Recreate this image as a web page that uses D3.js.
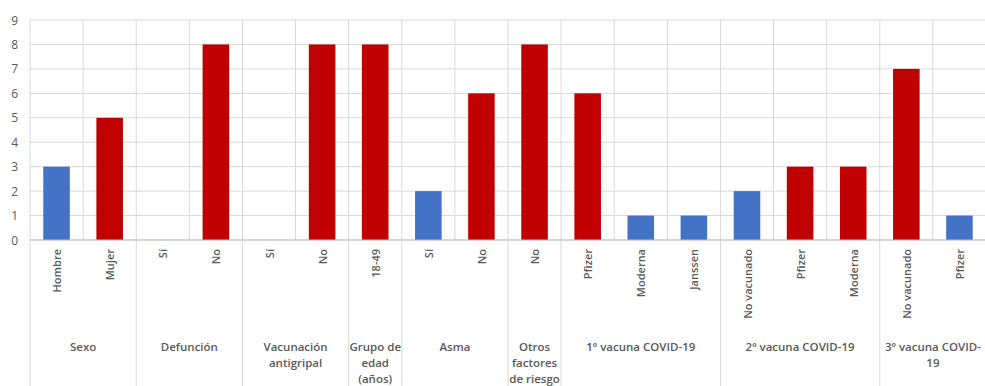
<!DOCTYPE html>
<html>
<head>
<meta charset="utf-8">
<script src="https://cdn.jsdelivr.net/npm/d3@7"></script>
<style>
  html, body { margin: 0; padding: 0; background: #fff; }
  svg { display: block; }
  text { font-family: "Open Sans", "Liberation Sans", sans-serif; fill: #595959; }
</style>
</head>
<body>
<svg id="chart" width="985" height="386"></svg>
<script>
// Category labels (inner level of the axis)
const categories = [
  "Hombre", "Mujer",
  "Sí", "No",
  "Sí", "No",
  "18-49",
  "Sí", "No",
  "No",
  "Pfizer", "Moderna", "Janssen",
  "No vacunado", "Pfizer", "Moderna",
  "No vacunado", "Pfizer"
];
// Number of cases per category
const values = [3, 5, 0, 8, 0, 8, 8, 2, 6, 8, 6, 1, 1, 2, 3, 3, 7, 1];
// Bar colour class per category
const colorKeys = ["b", "r", "r", "r", "r", "r", "r", "b", "r", "r", "r", "b", "b", "b", "r", "r", "r", "b"];
// Outer level of the axis: group label lines and how many categories each spans
const groupLabels = [
  ["Sexo"],
  ["Defunción"],
  ["Vacunación", "antigripal"],
  ["Grupo de", "edad", "(años)"],
  ["Asma"],
  ["Otros", "factores", "de riesgo"],
  ["1º vacuna COVID-19"],
  ["2º vacuna COVID-19"],
  ["3º vacuna COVID-", "19"]
];
const groupSizes = [2, 2, 2, 1, 2, 1, 3, 3, 2];
const yTicks = [0, 1, 2, 3, 4, 5, 6, 7, 8, 9];

const palette = { b: "#4472C4", r: "#C00000" };
const gridColor = "#d9d9d9";

const svg = d3.select("#chart");
const plotLeft = 30, plotRight = 986, plotTop = 20, plotBottom = 240;

const x = d3.scaleBand()
  .domain(d3.range(categories.length))
  .range([plotLeft, plotRight])
  .paddingInner(0.5)
  .paddingOuter(0.25);
const step = x.step();
// Left edge of the i-th category cell (i = n gives the right edge of the last one)
const cellLeft = i => x.range()[0] + i * step;

const y = d3.scaleLinear().domain([0, 9]).range([plotBottom, plotTop]);

// Horizontal gridlines
svg.append("g").selectAll("line").data(yTicks).join("line")
  .attr("x1", plotLeft).attr("x2", plotRight)
  .attr("y1", d => y(d)).attr("y2", d => y(d))
  .attr("stroke", gridColor).attr("stroke-width", 1);

// Vertical gridlines between categories inside the plot
svg.append("g").selectAll("line").data(d3.range(categories.length + 1)).join("line")
  .attr("x1", i => cellLeft(i)).attr("x2", i => cellLeft(i))
  .attr("y1", plotTop).attr("y2", plotBottom)
  .attr("stroke", gridColor).attr("stroke-width", 1);

// Y axis tick labels
svg.append("g").selectAll("text").data(yTicks).join("text")
  .attr("x", 18).attr("y", d => y(d))
  .attr("text-anchor", "end").attr("dominant-baseline", "central")
  .attr("font-size", 12)
  .text(d => d);

// Bars
svg.append("g").selectAll("rect").data(values).join("rect")
  .attr("x", (d, i) => x(i))
  .attr("width", x.bandwidth())
  .attr("y", d => y(d))
  .attr("height", d => y(0) - y(d))
  .attr("fill", (d, i) => palette[colorKeys[i]]);

// Axis baseline
svg.append("line")
  .attr("x1", plotLeft).attr("x2", plotRight)
  .attr("y1", plotBottom).attr("y2", plotBottom)
  .attr("stroke", "#bfbfbf").attr("stroke-width", 1);

// Rotated category labels
svg.append("g").selectAll("text").data(categories).join("text")
  .attr("transform", (d, i) => `translate(${x(i) + x.bandwidth() / 2},249) rotate(-90)`)
  .attr("text-anchor", "end").attr("dominant-baseline", "central")
  .attr("font-size", 11).attr("font-weight", 600)
  .text(d => d);

// Group separators and labels
let start = 0;
const groups = groupLabels.map((lines, g) => {
  const o = { lines, start, end: start + groupSizes[g] };
  start += groupSizes[g];
  return o;
});
const sepIdx = [0, ...groups.map(g => g.end)];
svg.append("g").selectAll("line").data(sepIdx).join("line")
  .attr("x1", i => cellLeft(i)).attr("x2", i => cellLeft(i))
  .attr("y1", plotBottom).attr("y2", 386)
  .attr("stroke", gridColor).attr("stroke-width", 1);

const gl = svg.append("g").selectAll("text").data(groups).join("text")
  .attr("text-anchor", "middle")
  .attr("font-size", 11.5).attr("font-weight", 600)
  .attr("transform", g => `translate(${(cellLeft(g.start) + cellLeft(g.end)) / 2},351)`);
gl.selectAll("tspan").data(g => g.lines).join("tspan")
  .attr("x", 0).attr("y", (d, k) => k * 16)
  .text(d => d);
</script>
</body>
</html>
